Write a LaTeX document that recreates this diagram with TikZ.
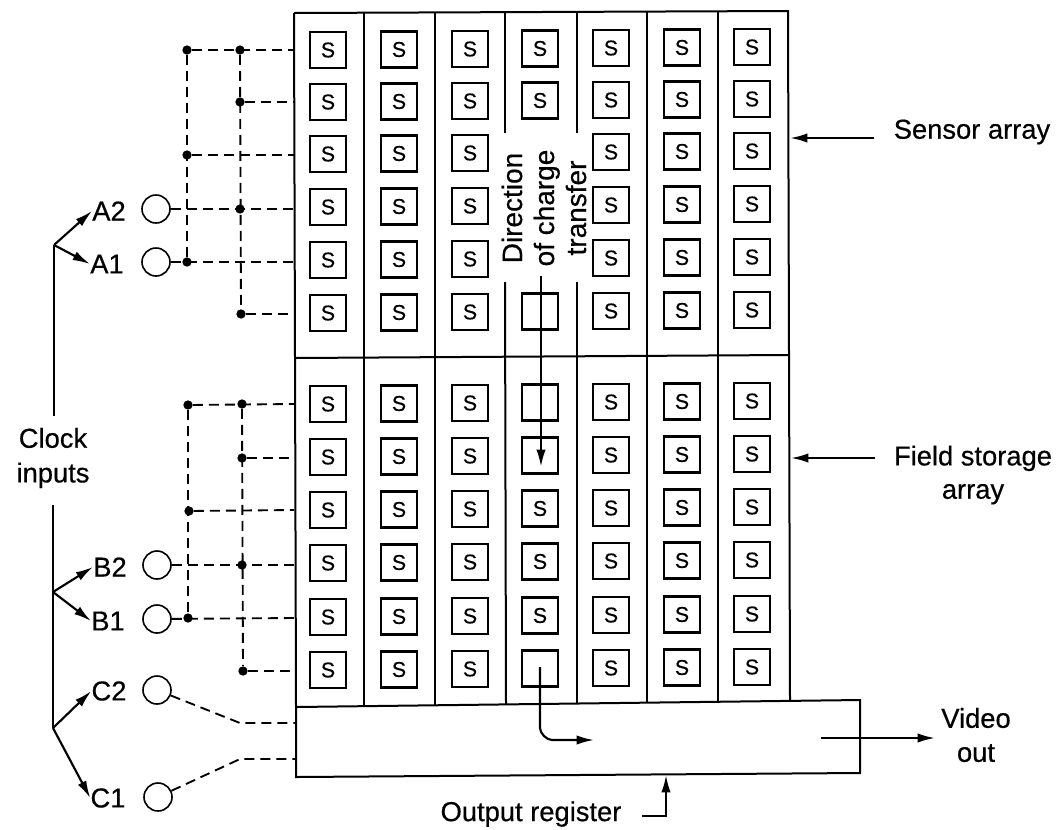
\documentclass[tikz,border=0pt]{standalone}
\usepackage{fontspec}
\setmainfont[FakeBold=0.5]{Liberation Sans}
\usetikzlibrary{arrows.meta}
\tikzset{
  cell/.style={draw,line width=1.6pt,minimum size=27pt,inner sep=0pt,font=\fontsize{16}{16}\selectfont},
  wall/.style={line width=1.5pt},
  dashline/.style={line width=1.4pt,dash pattern=on 7.5pt off 4.5pt},
  dot/.style={circle,fill=black,inner sep=0pt,minimum size=7pt},
  pin/.style={circle,draw,line width=1.2pt,minimum size=21pt,inner sep=0pt},
  lab/.style={inner sep=0pt,font=\fontsize{20.5}{25}\selectfont,align=center},
  arr/.style={line width=1.6pt,-{Latex[length=13pt,width=7pt]}},
}
\begin{document}
\begin{tikzpicture}[x=.75pt,y=-.75pt]
\useasboundingbox (0,0) rectangle (1059,829);
% outline coordinates
\coordinate (tl) at (294,13);
\coordinate (tr) at (788,11);
\coordinate (ml) at (295,358);
\coordinate (mr) at (789,355);
\coordinate (rtl) at (296,707);
\coordinate (rtr) at (860,700);
\coordinate (rbl) at (296,777);
\coordinate (rbr) at (860,773);
\draw[wall] (tl) -- (tr) -- (mr) -- (790,700);
\draw[wall] (tl) -- (ml) -- (rtl);
\draw[wall] (ml) -- (mr);
\draw[wall] (rtl) -- (rtr) -- (rbr) -- (rbl) -- cycle;
% column walls
\foreach \x/\yt/\yb in {364/13/706,435/12/705,647/12/702,718/11/701}{
  \draw[wall] (\x,\yt) -- (\x,\yb);
}
\draw[wall] (505,12) -- (505,133);
\draw[wall] (505,282) -- (506,704);
\draw[wall] (577,12) -- (577,133);
\draw[wall] (577,282) -- (577,703);
% sensor cells
\foreach \c/\x/\d in {1/328/0,2/399/0.5,3/470/1,4/540/1.5,5/611/2,6/682/2.5,7/752/3}{
  \foreach \r/\y in {1/50,2/102,3/154,4/207,5/260,6/313,7/404,8/457,9/510,10/563,11/617,12/670}{
    \pgfmathsetmacro{\yy}{\y-\d}
    \ifnum\c=4\relax
      \ifnum\r=3 \else\ifnum\r=4 \else\ifnum\r=5 \else
        \ifnum\r=6 \node[cell] (s\c-\r) at (\x,\yy) {};\else
        \ifnum\r=7 \node[cell] (s\c-\r) at (\x,\yy) {};\else
        \ifnum\r=8 \node[cell] (s\c-\r) at (\x,\yy) {};\else
        \ifnum\r=12 \node[cell] (s\c-\r) at (\x,\yy) {};\else
        \node[cell] (s\c-\r) at (\x,\yy) {S};
        \fi\fi\fi\fi
      \fi\fi\fi
    \else
      \node[cell] (s\c-\r) at (\x,\yy) {S};
    \fi
  }
}
% direction label and charge arrows
\node[lab,rotate=90,font=\fontsize{21}{24}\selectfont] (dir) at (544,208) {Direction\\of charge\\transfer};
\coordinate (chargeA) at (541,276);
\coordinate (chargeB) at (541,467);
\draw[arr,line width=1.8pt] (chargeA) -- (chargeB);
\coordinate (outA) at (540,667);
\coordinate (outB) at (594,740);
\draw[arr] (outA) -- (540,728) to[out=-90,in=180,looseness=0.8] (552,740) -- (outB);
\coordinate (vidA) at (821,738);
\node[lab,font=\fontsize{20.5}{25.5}\selectfont] (video) at (976,735) {Video\\out};
\draw[arr] (vidA) -- (935,738);
% right labels
\node[lab] (sensor) at (972,132) {Sensor array};
\node[lab] (field) at (973,475) {Field storage\\array};
\coordinate (sa) at (874,138);
\coordinate (fa) at (875,458);
\draw[arr] (sa) -- (790,138);
\draw[arr] (fa) -- (791,458);
% output register label
\node[lab] (oreg) at (531,814) {Output register};
\coordinate (ora) at (642,816);
\draw[arr] (ora) -- (666,816) -- (666,775);
% pins
\node[pin] (A2) at (156,209) {};
\node[pin] (A1) at (156,262) {};
\node[pin] (B2) at (157,565) {};
\node[pin] (B1) at (157,619) {};
\node[pin] (C2) at (157,690) {};
\node[pin] (C1) at (158,797) {};
\node[lab] (tA2) at (109,211) {A2};
\node[lab] (tA1) at (107,264) {A1};
\node[lab] (tB2) at (110,567) {B2};
\node[lab] (tB1) at (108,621) {B1};
\node[lab] (tC2) at (109,691) {C2};
\node[lab] (tC1) at (108,798) {C1};
% clock inputs
\node[lab,font=\fontsize{20.5}{26}\selectfont] (clock) at (53,458) {Clock\\inputs};
\coordinate (fA) at (54,245);
\coordinate (fB) at (53,592);
\coordinate (fC) at (53,728);
\coordinate (trunkTop) at (54,416);
\coordinate (trunkLow) at (53,505);
\draw[wall] (trunkTop) -- (fA);
\draw[wall] (trunkLow) -- (fC);
\draw[arr] (fA) -- (tA2.west);
\draw[arr] (fA) -- (tA1.west);
\draw[arr] (fB) -- (tB2.west);
\draw[arr] (fB) -- (tB1.west);
\draw[arr] (fC) -- (tC2.west);
\draw[arr] (fC) -- (tC1.west);
% wiring
\foreach \n/\x/\y in {a1/187/50,a2/240/50,a3/240/102,a4/187/155,a5/240/209,a6/187/262,a7/241/314,
  b1/188/405,b2/242/404,b3/242/458,b4/189/511,b5/242/565,b6/188/618,b7/243/671}{
  \node[dot] (\n) at (\x,\y) {};
}
\foreach \n/\y in {1/50,2/102,3/155,4/209,5/262,6/314,7/404,8/458,9/510,10/565,11/618,12/671}{
  \coordinate (e\n) at (294,\y);
}
\draw[dashline] (a1) -- (e1);
\draw[dashline] (a3) -- (e2);
\draw[dashline] (a4) -- (e3);
\draw[dashline] (A2) -- (e4);
\draw[dashline] (A1) -- (e5);
\draw[dashline] (a7) -- (e6);
\draw[dashline] (a1) -- (a6);
\draw[dashline] (a2) -- (a7);
\draw[dashline] (b1) -- (e7);
\draw[dashline] (b3) -- (e8);
\draw[dashline] (b4) -- (e9);
\draw[dashline] (B2) -- (e10);
\draw[dashline] (B1) -- (e11);
\draw[dashline] (b7) -- (e12);
\draw[dashline] (b1) -- (b6);
\draw[dashline] (b2) -- (b7);
\coordinate (k1) at (240,723);
\coordinate (k2) at (295,723);
\coordinate (k3) at (240,759);
\coordinate (k4) at (295,759);
\draw[dashline] (C2) -- (k1) -- (k2);
\draw[dashline] (C1) -- (k3) -- (k4);
\end{tikzpicture}
\end{document}
